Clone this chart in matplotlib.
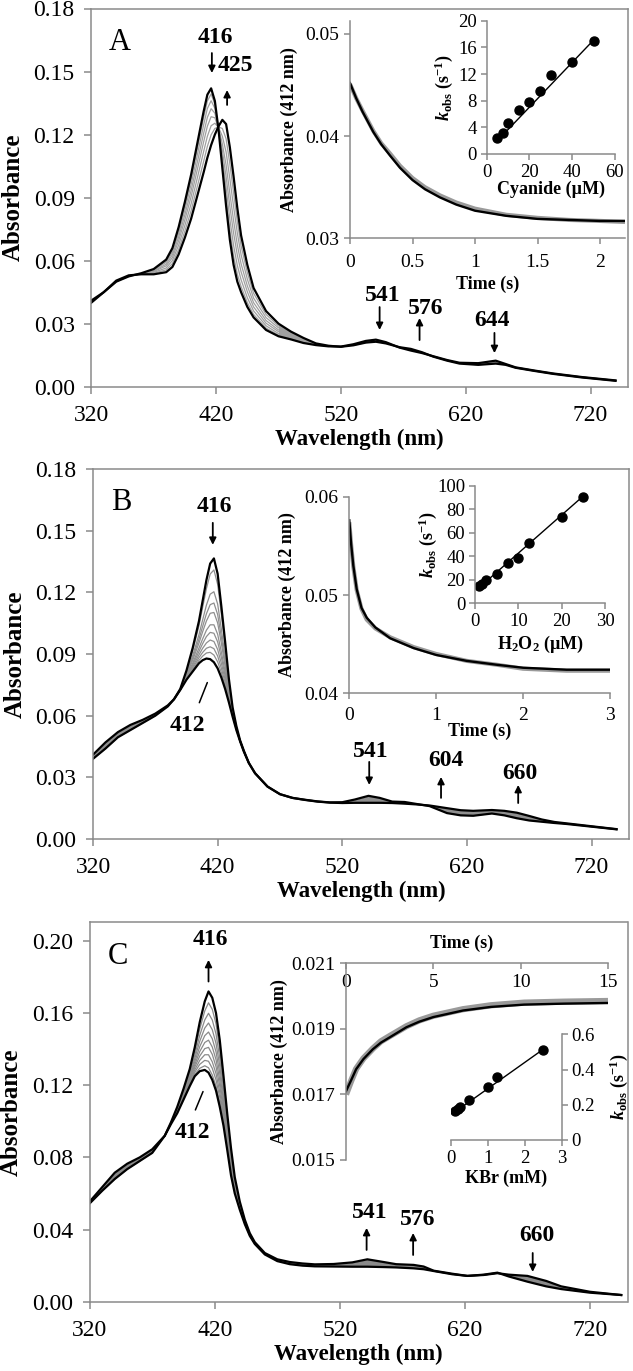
import matplotlib
matplotlib.use("Agg")
import matplotlib.pyplot as plt
import numpy as np
from matplotlib.ticker import FormatStrFormatter

plt.rcParams["font.family"] = ["Liberation Serif", "DejaVu Serif"]
plt.rcParams["mathtext.fontset"] = "custom"
plt.rcParams["mathtext.rm"] = "Liberation Serif:bold"
plt.rcParams["mathtext.it"] = "Liberation Serif:bold:italic"
plt.rcParams["mathtext.bf"] = "Liberation Serif:bold"

# ---------------- panel A: cyanide binding ----------------
a_wl = [320, 330, 340, 350, 360, 370, 380, 385, 390, 395, 400, 405, 410, 413, 416, 419, 422, 425,
        428, 431, 434, 437, 440, 445, 450, 460, 470, 480, 490, 500, 510, 520, 530, 540, 548, 556,
        567, 576, 585, 594, 605, 615, 630, 644, 652, 660, 675, 690, 713, 740]
a_first = [0.041, 0.045, 0.050, 0.0525, 0.054,
           0.056, 0.0605, 0.066, 0.076, 0.088, 0.101, 0.116, 0.131, 0.139, 0.142, 0.136, 0.122, 0.104,
           0.086, 0.070, 0.058, 0.050, 0.045, 0.038, 0.033, 0.027, 0.024,
           0.0225, 0.0208, 0.0198, 0.0192, 0.0191, 0.0202, 0.0218, 0.0224, 0.0212, 0.0186, 0.0172,
           0.0160, 0.0145, 0.0127, 0.0114, 0.0112, 0.0124, 0.0108, 0.0092, 0.0077, 0.0063, 0.0046, 0.0030]
a_last = [0.040, 0.045, 0.0505, 0.053, 0.0535,
          0.0535, 0.0545, 0.057, 0.063, 0.071, 0.080, 0.091, 0.102, 0.109, 0.115, 0.120, 0.124, 0.127,
          0.125, 0.114, 0.100, 0.085, 0.072, 0.058, 0.047, 0.036, 0.030,
          0.0262, 0.0232, 0.0206, 0.0195, 0.0190, 0.0197, 0.0210, 0.0214, 0.0206, 0.0188, 0.0180,
          0.0164, 0.0143, 0.0124, 0.0110, 0.0104, 0.0110, 0.0104, 0.0090, 0.0075, 0.0061, 0.0044, 0.0028]
a_mid_wl = [370, 380, 385, 390, 395, 400, 405, 410, 413, 416, 419, 422, 425, 428, 431, 434, 437,
            440, 445, 450, 460, 470]
a_mid = [
    [0.0558, 0.0599, 0.0651, 0.0747, 0.0863, 0.0989, 0.1135, 0.1281, 0.1360, 0.1393, 0.1344, 0.1222,
     0.1063, 0.0899, 0.0744, 0.0622, 0.0535, 0.0477, 0.0400, 0.0344, 0.0279, 0.0246],
    [0.0555, 0.0592, 0.0640, 0.0731, 0.0843, 0.0964, 0.1105, 0.1246, 0.1324, 0.1361, 0.1325, 0.1224,
     0.1091, 0.0946, 0.0797, 0.0672, 0.0577, 0.0509, 0.0424, 0.0361, 0.0290, 0.0253],
    [0.0551, 0.0583, 0.0628, 0.0713, 0.0819, 0.0934, 0.1070, 0.1206, 0.1282, 0.1323, 0.1302, 0.1227,
     0.1123, 0.1000, 0.0858, 0.0731, 0.0626, 0.0547, 0.0452, 0.0380, 0.0302, 0.0262],
    [0.0548, 0.0575, 0.0615, 0.0695, 0.0795, 0.0905, 0.1035, 0.1165, 0.1240, 0.1285, 0.1280, 0.1230,
     0.1155, 0.1055, 0.0920, 0.0790, 0.0675, 0.0585, 0.0480, 0.0400, 0.0315, 0.0270],
    [0.0544, 0.0565, 0.0601, 0.0674, 0.0768, 0.0871, 0.0995, 0.1119, 0.1192, 0.1242, 0.1254, 0.1233,
     0.1192, 0.1117, 0.0990, 0.0857, 0.0731, 0.0628, 0.0512, 0.0422, 0.0329, 0.0280],
    [0.0540, 0.0556, 0.0586, 0.0653, 0.0741, 0.0838, 0.0955, 0.1072, 0.1144, 0.1199, 0.1229, 0.1236,
     0.1229, 0.1180, 0.1061, 0.0924, 0.0787, 0.0671, 0.0544, 0.0445, 0.0344, 0.0289],
]
a_time = [0, 0.05, 0.1, 0.187, 0.25, 0.32, 0.4, 0.5, 0.6, 0.72, 0.85, 1.0, 1.25, 1.5, 1.75, 2.0, 2.2]
a_fit = [0.0452, 0.0437, 0.0424, 0.0404, 0.0392, 0.0381, 0.0369, 0.0357, 0.0348, 0.0340, 0.0333,
         0.0327, 0.0322, 0.0319, 0.0318, 0.0317, 0.0317]
a_trace = [0.0451, 0.0437, 0.0425, 0.0405, 0.0393, 0.0383, 0.0371, 0.0359, 0.0350, 0.0342, 0.0335,
           0.0329, 0.0323, 0.0320, 0.0318, 0.0317, 0.0316]
cn_conc = [5, 7.5, 10, 15, 20, 25, 30, 40, 50]
cn_kobs = [2.4, 3.1, 4.6, 6.6, 7.8, 9.5, 11.8, 13.8, 17.0]
cn_fit_x = [5, 50]
cn_fit_y = [2.0, 17.1]

# ---------------- panel B: H2O2 ----------------
b_wl = [320, 330, 340, 350, 360, 370, 380, 385, 390, 395, 400, 405, 408, 411, 414, 417, 420, 423,
        426, 429, 432, 435, 438, 441, 445, 450, 460, 470, 480, 490, 500, 510, 520, 530, 541, 550,
        560, 570, 580, 590, 604, 615, 625, 640, 650, 660, 670, 680, 690, 700, 720, 740]
b_first = [0.041, 0.047, 0.052, 0.0555, 0.058, 0.061, 0.065,
           0.068, 0.073, 0.082, 0.093, 0.106, 0.116, 0.126, 0.134, 0.1365, 0.129, 0.113, 0.096,
           0.078, 0.064, 0.055, 0.048, 0.043, 0.037,
           0.032, 0.0255, 0.0218, 0.0200, 0.0191, 0.0183, 0.0178, 0.0179, 0.0192, 0.0210, 0.0200,
           0.0182, 0.0180, 0.0170, 0.0160, 0.0126, 0.0115, 0.0113, 0.0124, 0.0115, 0.0101, 0.0090,
           0.0084, 0.0078, 0.0073, 0.0060, 0.0047]
b_last = [0.039, 0.044, 0.0495, 0.053, 0.0565, 0.060, 0.0645,
          0.068, 0.0725, 0.0775, 0.0815, 0.0855, 0.0870, 0.0878, 0.0875, 0.0860, 0.0830, 0.0785,
          0.0730, 0.0665, 0.0595, 0.0530, 0.0475, 0.0425, 0.0370,
          0.032, 0.0255, 0.0218, 0.0200, 0.0190, 0.0182, 0.0177, 0.0175, 0.0176, 0.0176, 0.0176,
          0.0175, 0.0172, 0.0168, 0.0163, 0.0150, 0.0140, 0.0137, 0.0141, 0.0137, 0.0128, 0.0112,
          0.0095, 0.0083, 0.0076, 0.0062, 0.0048]
b_mid_wl = [385, 390, 395, 400, 405, 408, 411, 414, 417, 420, 423, 426, 429, 432, 435, 438, 441, 445]
b_mid = [
    [0.0680, 0.0729, 0.0815, 0.0917, 0.1037, 0.1128, 0.1218, 0.1289, 0.1309, 0.1239, 0.1092, 0.0935,
     0.0767, 0.0635, 0.0548, 0.0480, 0.0430, 0.0370],
    [0.0680, 0.0728, 0.0806, 0.0893, 0.0994, 0.1067, 0.1138, 0.1191, 0.1203, 0.1143, 0.1020, 0.0886,
     0.0743, 0.0626, 0.0544, 0.0478, 0.0428, 0.0370],
    [0.0680, 0.0728, 0.0801, 0.0881, 0.0972, 0.1035, 0.1096, 0.1140, 0.1148, 0.1092, 0.0982, 0.0861,
     0.0731, 0.0621, 0.0541, 0.0478, 0.0428, 0.0370],
    [0.0680, 0.0727, 0.0797, 0.0870, 0.0953, 0.1009, 0.1061, 0.1098, 0.1102, 0.1051, 0.0951, 0.0840,
     0.0720, 0.0617, 0.0540, 0.0477, 0.0427, 0.0370],
    [0.0680, 0.0727, 0.0791, 0.0856, 0.0929, 0.0974, 0.1016, 0.1042, 0.1042, 0.0996, 0.0909, 0.0813,
     0.0706, 0.0611, 0.0537, 0.0477, 0.0427, 0.0370],
    [0.0680, 0.0726, 0.0788, 0.0847, 0.0912, 0.0951, 0.0985, 0.1005, 0.1001, 0.0959, 0.0882, 0.0794,
     0.0697, 0.0608, 0.0536, 0.0476, 0.0426, 0.0370],
    [0.0680, 0.0726, 0.0784, 0.0838, 0.0896, 0.0928, 0.0954, 0.0968, 0.0961, 0.0922, 0.0854, 0.0776,
     0.0688, 0.0604, 0.0534, 0.0476, 0.0426, 0.0370],
    [0.0680, 0.0726, 0.0781, 0.0830, 0.0882, 0.0908, 0.0928, 0.0935, 0.0926, 0.0890, 0.0830, 0.0760,
     0.0680, 0.0601, 0.0533, 0.0476, 0.0426, 0.0370],
    [0.0680, 0.0725, 0.0778, 0.0823, 0.0869, 0.0890, 0.0905, 0.0908, 0.0895, 0.0862, 0.0809, 0.0746,
     0.0673, 0.0598, 0.0531, 0.0475, 0.0425, 0.0370],
]
b_time = [0, 0.02, 0.046, 0.085, 0.14, 0.2, 0.3, 0.47, 0.74, 1.0, 1.35, 1.7, 2.0, 2.5, 3.0]
b_fit = [0.0576, 0.0553, 0.0530, 0.0506, 0.0487, 0.0477, 0.0467, 0.0456, 0.0446, 0.0439, 0.0433,
         0.0429, 0.0426, 0.0424, 0.0424]
b_trace = [0.0574, 0.0552, 0.0529, 0.0505, 0.0486, 0.0475, 0.0466, 0.0457, 0.0447, 0.0440, 0.0433,
           0.0429, 0.0425, 0.0423, 0.0423]
h2o2_conc = [1, 1.5, 2.5, 5, 7.5, 10, 12.5, 20, 25]
h2o2_kobs = [14.5, 16.5, 19.5, 25, 34.5, 38.5, 51.5, 73.5, 91]
h2o2_fit_x = [1, 25]
h2o2_fit_y = [13.5, 91.5]

# ---------------- panel C: KBr ----------------
c_wl = [320, 330, 340, 350, 360, 370, 380, 385, 390, 395, 400, 404, 408, 412, 415, 418, 421, 424,
        427, 430, 433, 436, 440, 444, 448, 452, 460, 470, 480, 490, 500, 515, 530, 542, 555, 565,
        579, 587, 595, 610, 622, 635, 646, 655, 670, 685, 697, 720, 745]
c_first = [0.0555, 0.0635, 0.0715, 0.0765, 0.0800, 0.0845,
           0.0920, 0.0985, 0.1045, 0.1120, 0.1195, 0.1250, 0.1278, 0.1285, 0.1270, 0.1230, 0.1170,
           0.1080, 0.0975, 0.0840, 0.0700, 0.0600, 0.0510, 0.0430, 0.0365, 0.0320,
           0.0262, 0.0225, 0.0208, 0.0200, 0.0196, 0.0195, 0.0194, 0.0194, 0.0192, 0.0190, 0.0185,
           0.0180, 0.0170, 0.0152, 0.0143, 0.0148, 0.0158, 0.0150, 0.0143, 0.0115, 0.0085, 0.0055, 0.0037]
c_last = [0.0545, 0.0615, 0.0680, 0.0735, 0.0780, 0.0825,
          0.0920, 0.0995, 0.1080, 0.1180, 0.1290, 0.1410, 0.1550, 0.1665, 0.1720, 0.1685, 0.1600,
          0.1450, 0.1250, 0.1040, 0.0850, 0.0690, 0.0555, 0.0455, 0.0380, 0.0330,
          0.0270, 0.0235, 0.0220, 0.0212, 0.0207, 0.0209, 0.0218, 0.0235, 0.0220, 0.0208, 0.0204,
          0.0195, 0.0172, 0.0155, 0.0143, 0.0150, 0.0161, 0.0140, 0.0111, 0.0085, 0.0070, 0.0050, 0.0037]
c_mid_wl = [380, 385, 390, 395, 400, 404, 408, 412, 415, 418, 421, 424, 427, 430, 433, 436, 440,
            444, 448, 452]
c_mid = [
    [0.0920, 0.0990, 0.1047, 0.1124, 0.1201, 0.1260, 0.1294, 0.1308, 0.1297, 0.1257, 0.1196, 0.1102,
     0.0992, 0.0852, 0.0709, 0.0605, 0.0513, 0.0432, 0.0366, 0.0321],
    [0.0920, 0.0990, 0.1050, 0.1128, 0.1208, 0.1272, 0.1316, 0.1338, 0.1333, 0.1294, 0.1230, 0.1132,
     0.1014, 0.0868, 0.0721, 0.0613, 0.0516, 0.0434, 0.0367, 0.0321],
    [0.0920, 0.0990, 0.1053, 0.1133, 0.1216, 0.1285, 0.1338, 0.1369, 0.1369, 0.1330, 0.1265, 0.1161,
     0.1036, 0.0884, 0.0733, 0.0620, 0.0520, 0.0436, 0.0368, 0.0322],
    [0.0920, 0.0990, 0.1056, 0.1139, 0.1224, 0.1300, 0.1362, 0.1403, 0.1410, 0.1371, 0.1303, 0.1195,
     0.1060, 0.0902, 0.0747, 0.0628, 0.0524, 0.0438, 0.0370, 0.0323],
    [0.0920, 0.0990, 0.1059, 0.1144, 0.1233, 0.1314, 0.1387, 0.1437, 0.1450, 0.1412, 0.1342, 0.1228,
     0.1085, 0.0920, 0.0760, 0.0636, 0.0528, 0.0440, 0.0371, 0.0324],
    [0.0920, 0.0990, 0.1063, 0.1150, 0.1243, 0.1330, 0.1414, 0.1475, 0.1495, 0.1458, 0.1385, 0.1265,
     0.1113, 0.0940, 0.0775, 0.0645, 0.0533, 0.0443, 0.0373, 0.0325],
    [0.0920, 0.0990, 0.1066, 0.1157, 0.1253, 0.1348, 0.1444, 0.1517, 0.1545, 0.1508, 0.1432, 0.1306,
     0.1143, 0.0962, 0.0792, 0.0655, 0.0537, 0.0445, 0.0374, 0.0326],
    [0.0920, 0.0990, 0.1071, 0.1164, 0.1264, 0.1367, 0.1477, 0.1562, 0.1599, 0.1562, 0.1484, 0.1350,
     0.1176, 0.0986, 0.0810, 0.0666, 0.0543, 0.0448, 0.0376, 0.0327],
    [0.0920, 0.0990, 0.1075, 0.1172, 0.1277, 0.1388, 0.1512, 0.1612, 0.1657, 0.1621, 0.1540, 0.1398,
     0.1212, 0.1012, 0.0829, 0.0677, 0.0549, 0.0452, 0.0378, 0.0329],
]
c_time = [0, 0.3, 0.58, 1.0, 1.54, 2.0, 2.5, 3.46, 4.2, 5.0, 6.7, 8.3, 10.2, 12.5, 15]
c_fit = [0.0171, 0.01744, 0.01777, 0.01808, 0.01838, 0.01858, 0.01874, 0.01905, 0.01922, 0.01936,
         0.01956, 0.01967, 0.01974, 0.01977, 0.01979]
c_trace = [0.0170, 0.01742, 0.01778, 0.01810, 0.01840, 0.01862, 0.01878, 0.01908, 0.01926, 0.01940,
           0.01960, 0.01972, 0.01980, 0.01983, 0.01985]
kbr_conc = [0.1, 0.2, 0.25, 0.5, 1.0, 1.25, 2.5]
kbr_kobs = [0.165, 0.175, 0.185, 0.225, 0.30, 0.355, 0.51]
kbr_fit_x = [0.1, 2.5]
kbr_fit_y = [0.158, 0.515]

AXIS_GREY = "#8a8a8a"
W, H = 633, 1371
KOBS_LABEL = r"$k_{\mathrm{obs}}$ (s$^{-1}$)"


def box(left, top, right, bottom):
    return [left / W, 1 - bottom / H, (right - left) / W, (bottom - top) / H]


def style_axes(ax, spines, labelsize, ticklen, pad):
    for name, spine in ax.spines.items():
        spine.set_visible(name in spines)
        spine.set_color(AXIS_GREY)
        spine.set_linewidth(1.1)
    ax.tick_params(direction="out", length=ticklen, width=1.1, color=AXIS_GREY,
                   labelsize=labelsize, pad=pad)
    ax.patch.set_alpha(0)


def main_panel(fig, rect, ymax, yticks, letter):
    ax = fig.add_axes(rect)
    style_axes(ax, ["left", "bottom", "top", "right"], 17, 5, 7)
    ax.set_xlim(320, 750)
    ax.set_ylim(0, ymax)
    ax.set_xticks([320, 420, 520, 620, 720])
    ax.set_yticks(yticks)
    ax.yaxis.set_major_formatter(FormatStrFormatter("%.2f"))
    ax.tick_params(axis="x", pad=8)
    ax.set_xlabel("Wavelength (nm)", fontsize=16.5, fontweight="bold")
    ax.set_ylabel("Absorbance", fontsize=18, fontweight="bold")
    ax.xaxis.set_label_coords(0.5, -0.112)
    ax.yaxis.set_label_coords(-0.124, 0.5)
    ax.text(0.053, 0.91, letter, transform=ax.transAxes, fontsize=22, ha="center", va="center")
    return ax


def draw_spectra(ax, wl, first, last, mid_wl, mid_rows, grey):
    lo = wl.index(mid_wl[0])
    hi = wl.index(mid_wl[-1])
    ax.fill_between(wl[:lo + 1], first[:lo + 1], last[:lo + 1], color=grey, lw=0)
    ax.fill_between(wl[hi:], first[hi:], last[hi:], color=grey, lw=0)
    for row in mid_rows:
        ax.plot(mid_wl, row, color=grey, lw=0.9)
    ax.plot(wl, first, color="black", lw=1.6)
    ax.plot(wl, last, color="black", lw=1.6)


def peak_notes(ax, labels, arrows, slash=None):
    for text, x, y in labels:
        ax.text(x, y, text, ha="center", va="center", fontsize=17, fontweight="bold")
    for x, y_tail, y_head in arrows:
        ax.annotate("", xy=(x, y_head), xytext=(x, y_tail),
                    arrowprops=dict(arrowstyle="-|>", color="black", lw=1.3,
                                    mutation_scale=10, shrinkA=0, shrinkB=0))
    if slash is not None:
        (x0, y0), (x1, y1) = slash
        ax.annotate("", xy=(x1, y1), xytext=(x0, y0),
                    arrowprops=dict(arrowstyle="-", color="black", lw=1.1, shrinkA=0, shrinkB=0))


def kinetic_inset(fig, rect, time, trace, fit, xlim, ylim, yticks, xticks, yfmt, grey_lw):
    ax = fig.add_axes(rect)
    style_axes(ax, ["left", "bottom"], 14, 4, 4)
    ax.plot(time, trace, color="#9a9a9a", lw=grey_lw, solid_capstyle="butt")
    ax.plot(time, fit, color="black", lw=1.7)
    ax.set_xlim(*xlim)
    ax.set_ylim(*ylim)
    ax.set_yticks(yticks)
    ax.set_xticks(xticks)
    ax.yaxis.set_major_formatter(FormatStrFormatter(yfmt))
    ax.xaxis.set_major_formatter(FormatStrFormatter("%g"))
    ax.set_xlabel("Time (s)", fontsize=13, fontweight="bold")
    ax.set_ylabel("Absorbance (412 nm)", fontsize=13, fontweight="bold")
    return ax


def rate_inset(fig, rect, conc, kobs, fit_x, fit_y, xlim, ylim, xticks, yticks, xlabel, spines):
    ax = fig.add_axes(rect)
    style_axes(ax, spines, 13.5, 4, 3)
    ax.plot(fit_x, fit_y, color="black", lw=1.0)
    ax.plot(conc, kobs, "o", color="black", ms=6.5)
    ax.set_xlim(*xlim)
    ax.set_ylim(*ylim)
    ax.set_xticks(xticks)
    ax.set_yticks(yticks)
    ax.yaxis.set_major_formatter(FormatStrFormatter("%g"))
    ax.set_xlabel(xlabel, fontsize=13, fontweight="bold")
    ax.set_ylabel(KOBS_LABEL, fontsize=13, fontweight="bold")
    return ax


fig = plt.figure(figsize=(W / 100, H / 100), dpi=100)

# ---- A ----
ax_a = main_panel(fig, box(91.3, 8.5, 628, 386.7), 0.18, np.linspace(0, 0.18, 7), "A")
draw_spectra(ax_a, a_wl, a_first, a_last, a_mid_wl, a_mid, "#a0a0a0")
peak_notes(ax_a,
           [("416", 419.1, 0.1660), ("425", 435.8, 0.1531), ("541", 553.4, 0.0432),
            ("576", 587.8, 0.0374), ("644", 641.4, 0.0317)],
           [(416.6, 0.1588, 0.1493), (428.8, 0.1341, 0.1412), (551, 0.0379, 0.0270),
            (583, 0.0222, 0.0327), (643, 0.0256, 0.0160)])
ins_a = kinetic_inset(fig, box(350, 20.7, 625, 238.3), a_time, a_trace, a_fit, (0, 2.2),
                      (0.03, 0.0513), [0.03, 0.04, 0.05], [0, 0.5, 1, 1.5, 2], "%.2f", 3.0)
ins_a.xaxis.set_label_coords(0.5, -0.17)
ins_a.yaxis.set_label_coords(-0.19, 0.5)
ins_a.tick_params(axis="x", pad=7)
rate_a = rate_inset(fig, box(486.7, 20.7, 615, 154), cn_conc, cn_kobs, cn_fit_x, cn_fit_y,
                    (0, 60), (0, 20), [0, 20, 40, 60], [0, 4, 8, 12, 16, 20], "Cyanide (µM)",
                    ["left", "bottom"])
rate_a.xaxis.set_label_coords(0.5, -0.2)
rate_a.yaxis.set_label_coords(-0.25, 0.5)

# ---- B ----
ax_b = main_panel(fig, box(93, 469, 629, 839), 0.18, np.linspace(0, 0.18, 7), "B")
draw_spectra(ax_b, b_wl, b_first, b_last, b_mid_wl, b_mid, "#8f8f8f")
peak_notes(ax_b,
           [("416", 417.3, 0.1616), ("412", 395.6, 0.0550), ("541", 542.8, 0.0428),
            ("604", 603.2, 0.0380), ("660", 662.7, 0.0321)],
           [(416.1, 0.1538, 0.1431), (541.6, 0.0375, 0.0263), (599.2, 0.0200, 0.0302),
            (661.1, 0.0175, 0.0263)],
           slash=((405.3, 0.0663), (411.7, 0.0761)))
ins_b = kinetic_inset(fig, box(349.3, 496.7, 610, 693.3), b_time, b_trace, b_fit, (0, 3),
                      (0.04, 0.06), [0.04, 0.05, 0.06], [0, 1, 2, 3], "%.2f", 3.0)
ins_b.xaxis.set_label_coords(0.5, -0.15)
ins_b.yaxis.set_label_coords(-0.205, 0.5)
ins_b.tick_params(axis="x", pad=6)
rate_b = rate_inset(fig, box(475, 486, 605, 603.3), h2o2_conc, h2o2_kobs, h2o2_fit_x, h2o2_fit_y,
                    (0, 30), (0, 100), [0, 10, 20, 30], [0, 20, 40, 60, 80, 100],
                    "H$_2$O$_2$ (µM)", ["left", "bottom"])
rate_b.xaxis.set_label_coords(0.5, -0.26)
rate_b.yaxis.set_label_coords(-0.28, 0.5)

# ---- C ----
ax_c = main_panel(fig, box(89.7, 922, 627.5, 1301.7), 0.2105, np.linspace(0, 0.2, 6), "C")
draw_spectra(ax_c, c_wl, c_first, c_last, c_mid_wl, c_mid, "#8a8a8a")
peak_notes(ax_c,
           [("416", 416.2, 0.2006), ("412", 401.8, 0.0936), ("541", 544.2, 0.0492),
            ("576", 582.6, 0.0453), ("660", 677.9, 0.0365)],
           [(415, 0.1775, 0.1895), (541.4, 0.0287, 0.0409), (578.6, 0.0259, 0.0381),
            (674.2, 0.0270, 0.0165)],
           slash=((404.5, 0.1063), (410.6, 0.1165)))
ins_c = kinetic_inset(fig, box(346, 963.3, 608, 1160), c_time, c_trace, c_fit, (0, 15),
                      (0.015, 0.021), [0.015, 0.017, 0.019, 0.021], [0, 5, 10, 15], "%.3f", 4.5)
ins_c.spines["bottom"].set_visible(False)
ins_c.spines["top"].set_visible(True)
ins_c.xaxis.set_ticks_position("top")
ins_c.xaxis.set_label_position("top")
ins_c.tick_params(axis="x", direction="in", pad=-20)
ins_c.xaxis.set_label_coords(0.44, 1.08)
ins_c.yaxis.set_label_coords(-0.22, 0.5)
rate_c = rate_inset(fig, box(451, 1034.3, 561.7, 1140), kbr_conc, kbr_kobs, kbr_fit_x, kbr_fit_y,
                    (0, 3), (0, 0.6), [0, 1, 2, 3], [0, 0.2, 0.4, 0.6], "KBr (mM)",
                    ["right", "bottom"])
rate_c.yaxis.tick_right()
rate_c.yaxis.set_label_position("right")
rate_c.xaxis.set_label_coords(0.5, -0.28)
rate_c.yaxis.set_label_coords(1.41, 0.5)

fig.savefig("out.png", dpi=100)
